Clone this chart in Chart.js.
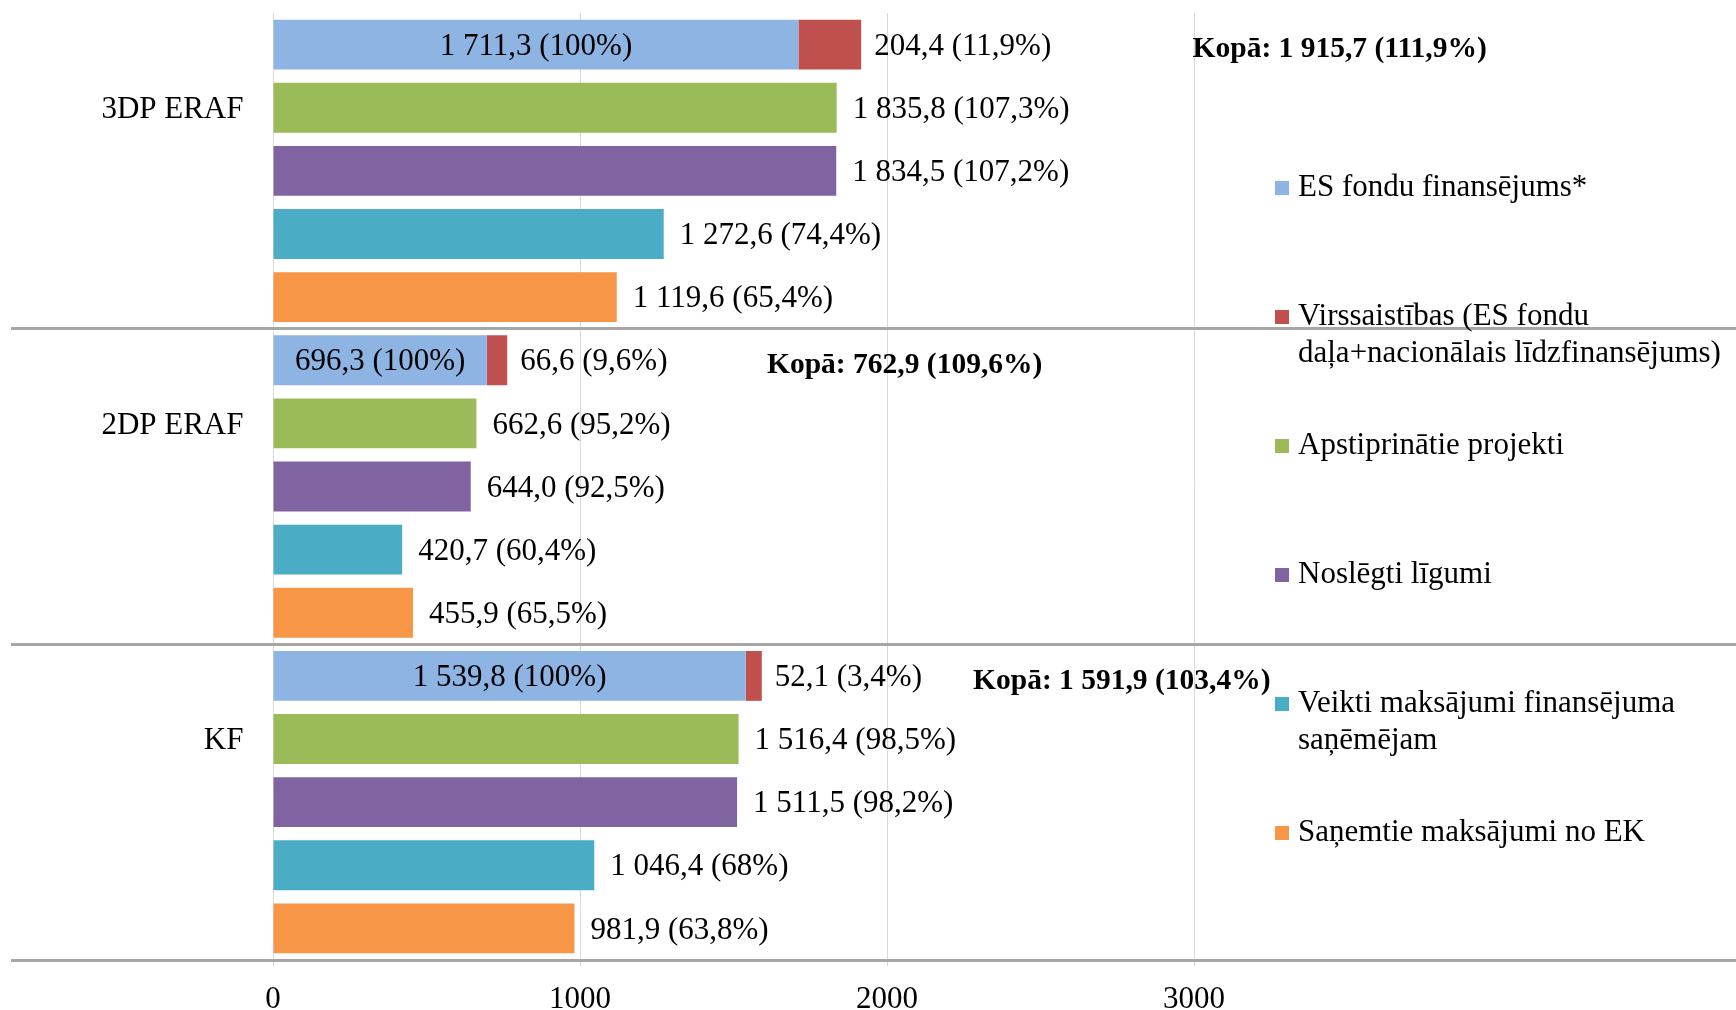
<!DOCTYPE html>
<html lang="lv">
<head>
<meta charset="utf-8">
<title>ES fondu finansējums</title>
<script src="https://cdn.jsdelivr.net/npm/chart.js@4.4.1/dist/chart.umd.min.js"></script>
<style>
  html, body { margin: 0; padding: 0; background: #fff; }
  #wrap { position: relative; width: 1736px; height: 1010px; }
</style>
</head>
<body>
<div id="wrap"><canvas id="chart"></canvas></div>
<script>
// dati (milj. EUR)
const categories = ['3DP ERAF', '2DP ERAF', 'KF'];
const xTicks = [0, 1000, 2000, 3000];

const esFondu = [1711.3, 696.3, 1539.8];
const esFonduPct = ['100', '100', '100'];
const virss = [204.4, 66.6, 52.1];
const virssPct = ['11,9', '9,6', '3,4'];
const apstiprinati = [1835.8, 662.6, 1516.4];
const apstiprinatiPct = ['107,3', '95,2', '98,5'];
const noslegti = [1834.5, 644.0, 1511.5];
const noslegtiPct = ['107,2', '92,5', '98,2'];
const veikti = [1272.6, 420.7, 1046.4];
const veiktiPct = ['74,4', '60,4', '68'];
const sanemti = [1119.6, 455.9, 981.9];
const sanemtiPct = ['65,4', '65,5', '63,8'];

const kopa = [1915.7, 762.9, 1591.9];
const kopaPct = ['111,9', '109,6', '103,4'];
// kur (ass vērtībās) sākas uzraksts "Kopā"
const kopaAt = [2995, 1609, 2280];

const FAMILY = '"Liberation Serif", "Times New Roman", serif';

function fmt(v) {
    const parts = v.toFixed(1).split('.');
    return parts[0].replace(/\B(?=(\d{3})+(?!\d))/g, ' ') + ',' + parts[1];
}

const barLabels = {
    id: 'barLabels',
    afterDatasetsDraw(chart) {
        const ctx = chart.ctx;
        ctx.save();
        ctx.fillStyle = '#000';
        ctx.textBaseline = 'middle';
        ctx.font = '31px ' + FAMILY;
        chart.data.datasets.forEach((ds, di) => {
            chart.getDatasetMeta(di).data.forEach((bar, i) => {
                const txt = fmt(ds.data[i]) + ' (' + ds.pct[i] + '%)';
                if (di === 0) {
                    ctx.textAlign = 'center';
                    ctx.fillText(txt, (bar.base + bar.x) / 2, bar.y + 2);
                } else {
                    ctx.textAlign = 'left';
                    ctx.fillText(txt, bar.x + (di === 1 ? 13 : 16), bar.y + 2);
                }
            });
        });
        // kopsummas
        const xs = chart.scales.x;
        const m0 = chart.getDatasetMeta(0);
        ctx.font = 'bold 29.5px ' + FAMILY;
        ctx.textAlign = 'left';
        kopa.forEach((v, i) => {
            ctx.fillText('Kopā: ' + fmt(v) + ' (' + kopaPct[i] + '%)', xs.getPixelForValue(kopaAt[i]), m0.data[i].y + 5);
        });
        ctx.restore();
    }
};

const sideLegend = {
    id: 'sideLegend',
    afterDraw(chart) {
        const ctx = chart.ctx;
        ctx.save();
        ctx.font = '31px ' + FAMILY;
        ctx.textAlign = 'left';
        ctx.textBaseline = 'middle';
        chart.data.datasets.forEach((ds, i) => {
            const y = 188 + i * 129;
            ctx.fillStyle = ds.backgroundColor;
            ctx.fillRect(1275, y - 7, 14, 14);
            ctx.fillStyle = '#000';
            ds.label.split('\n').forEach((line, k) => ctx.fillText(line, 1298, y + k * 37));
        });
        ctx.restore();
    }
};

document.addEventListener('DOMContentLoaded', function() {
    new Chart(document.getElementById('chart'), {
        type: 'bar',
        data: {
            labels: categories,
            datasets: [
                { label: 'ES fondu finansējums*', data: esFondu, pct: esFonduPct, stack: 's1', backgroundColor: '#8EB4E3' },
                { label: 'Virssaistības (ES fondu\ndaļa+nacionālais līdzfinansējums)', data: virss, pct: virssPct, stack: 's1', backgroundColor: '#C0504D' },
                { label: 'Apstiprinātie projekti', data: apstiprinati, pct: apstiprinatiPct, stack: 's2', backgroundColor: '#9BBB59' },
                { label: 'Noslēgti līgumi', data: noslegti, pct: noslegtiPct, stack: 's3', backgroundColor: '#8064A2' },
                { label: 'Veikti maksājumi finansējuma\nsaņēmējam', data: veikti, pct: veiktiPct, stack: 's4', backgroundColor: '#4BACC6' },
                { label: 'Saņemtie maksājumi no EK', data: sanemti, pct: sanemtiPct, stack: 's5', backgroundColor: '#F79646' }
            ]
        },
        options: {
            indexAxis: 'y',
            responsive: true,
            maintainAspectRatio: false,
            animation: false,
            categoryPercentage: 1.0,
            barPercentage: 0.79,
            layout: { padding: { top: 13, left: 0, right: 0, bottom: 0 } },
            plugins: {
                legend: { display: false },
                tooltip: { enabled: false }
            },
            scales: {
                x: {
                    stacked: true,
                    min: 0,
                    max: 4765,
                    afterBuildTicks: s => { s.ticks = xTicks.map(v => ({ value: v })); },
                    afterFit: s => { s.height = 50; },
                    grid: { color: '#d9d9d9', lineWidth: 1, tickLength: 6 },
                    border: { display: false },
                    ticks: {
                        color: '#000',
                        font: { family: FAMILY, size: 31 },
                        padding: 15,
                        maxRotation: 0,
                        autoSkip: false,
                        callback: v => String(v)
                    }
                },
                y: {
                    stacked: true,
                    afterFit: s => { s.width = 273; },
                    grid: {
                        offset: true,
                        color: c => c.index === 0 ? 'rgba(0,0,0,0)' : '#a6a6a6',
                        lineWidth: 3,
                        tickLength: 262
                    },
                    border: { display: false },
                    ticks: {
                        color: '#000',
                        font: { family: FAMILY, size: 31 },
                        padding: -232.5,
                        labelOffset: -61
                    }
                }
            }
        },
        plugins: [barLabels, sideLegend]
    });
});
</script>
</body>
</html>
